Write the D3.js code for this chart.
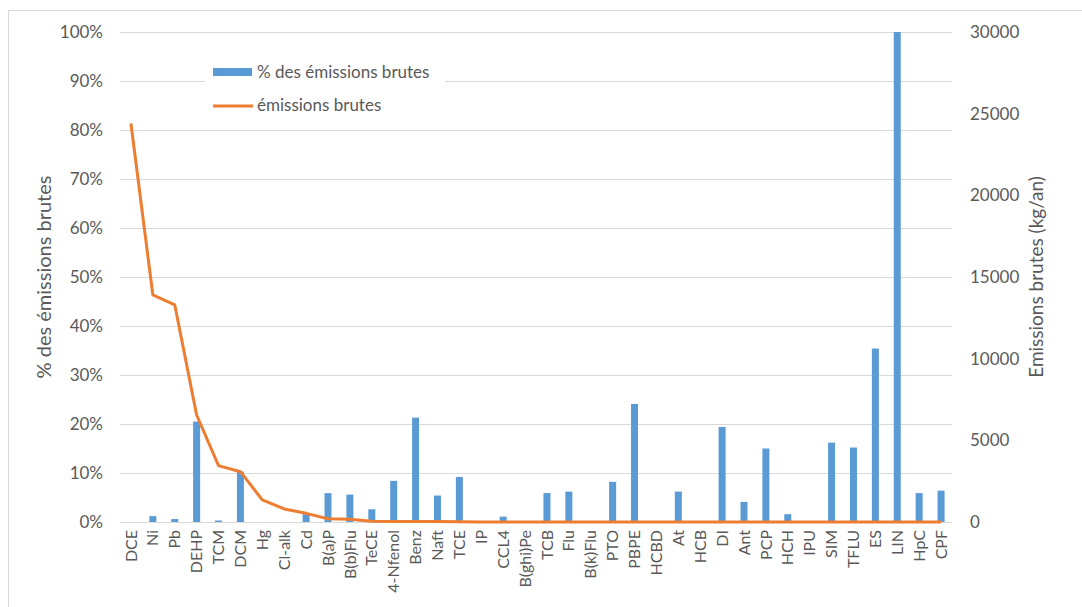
<!DOCTYPE html>
<html><head><meta charset="utf-8">
<script src="https://cdn.jsdelivr.net/npm/d3@7"></script>
<style>body{margin:0;background:#fff;} svg{display:block;}</style>
</head><body>
<svg id="c" width="1082" height="607"></svg>
<script>
const categories = ["DCE","Ni","Pb","DEHP","TCM","DCM","Hg","Cl-alk","Cd","B(a)P","B(b)Flu","TeCE","4-Nfenol","Benz","Naft","TCE","IP","CCL4","B(ghi)Pe","TCB","Flu","B(k)Flu","PTO","PBPE","HCBD","At","HCB","DI","Ant","PCP","HCH","IPU","SIM","TFLU","ES","LIN","HpC","CPF"];
const pctValues = [0,1.2,0.6,20.5,0.3,10.3,0,0,1.6,5.9,5.6,2.6,8.4,21.3,5.4,9.2,0,1.1,0,5.9,6.2,0,8.2,24.1,0,6.2,0,19.4,4.1,15.0,1.6,0,16.2,15.2,35.4,100,5.9,6.4];
const emissions = [24400,13900,13300,6550,3450,3080,1350,800,530,200,165,40,30,30,25,20,5,5,5,5,5,5,5,5,5,5,5,5,5,5,5,5,5,5,5,5,5,5];
const leftTicks = [0,10,20,30,40,50,60,70,80,90,100];
const rightTicks = [0,5000,10000,15000,20000,25000,30000];
const seriesNames = ["% des émissions brutes","émissions brutes"];

const svg = d3.select("#c");
const m = {left:120, right:952, top:32, bottom:522};
const font = "Lato, 'Open Sans', sans-serif";
const txt = "#595959";

svg.append("rect").attr("x",8.5).attr("y",10.5).attr("width",1100).attr("height",620)
  .attr("fill","#fff").attr("stroke","#d9d9d9");

const x = d3.scaleBand().domain(categories).range([m.left, m.right]).paddingInner(0.68).paddingOuter(0.34);
const yL = d3.scaleLinear().domain([0,100]).range([m.bottom, m.top]);
const yR = d3.scaleLinear().domain([0,30000]).range([m.bottom, m.top]);

// gridlines
svg.append("g").selectAll("line").data(leftTicks).join("line")
  .attr("x1",m.left).attr("x2",m.right)
  .attr("y1",d=>Math.round(yL(d))+0.5).attr("y2",d=>Math.round(yL(d))+0.5)
  .attr("stroke","#d9d9d9").attr("stroke-width",1);

// left axis
const gl = svg.append("g").attr("transform",`translate(${m.left},0)`)
  .call(d3.axisLeft(yL).tickValues(leftTicks).tickFormat(d=>d+"%").tickSize(0).tickPadding(17));
gl.select(".domain").remove();
gl.selectAll("text").attr("font-family",font).attr("font-size",17).attr("fill",txt);

// right axis
const gr = svg.append("g").attr("transform",`translate(${m.right},0)`)
  .call(d3.axisRight(yR).tickValues(rightTicks).tickFormat(d3.format("d")).tickSize(0).tickPadding(18));
gr.select(".domain").remove();
gr.selectAll("text").attr("font-family",font).attr("font-size",17).attr("fill",txt);

// bars
svg.append("g").selectAll("rect").data(categories).join("rect")
  .attr("x",(d)=>x(d)).attr("width",x.bandwidth())
  .attr("y",(d,i)=>yL(pctValues[i])).attr("height",(d,i)=>yL(0)-yL(pctValues[i]))
  .attr("fill","#5b9bd5");

// line
const line = d3.line().x((d,i)=>x(categories[i])+x.bandwidth()/2).y(d=>yR(d));
svg.append("path").datum(emissions).attr("d",line).attr("fill","none")
  .attr("stroke","#ed7d31").attr("stroke-width",3).attr("stroke-linejoin","round");

// x axis
const gx = svg.append("g").attr("transform",`translate(0,${m.bottom})`)
  .call(d3.axisBottom(x).tickSize(0).tickPadding(0));
gx.select(".domain").remove();
gx.selectAll("text").attr("font-family",font).attr("font-size",16).attr("fill",txt)
  .attr("transform","rotate(-90)").attr("text-anchor","end").attr("dx","-8").attr("dy","0.35em").attr("y",0).attr("x",0);

// axis titles
svg.append("text").attr("transform",`translate(51,${(m.top+m.bottom)/2}) rotate(-90)`)
  .attr("text-anchor","middle").attr("font-family",font).attr("font-size",20).attr("fill",txt)
  .text("% des émissions brutes");
svg.append("text").attr("transform",`translate(1043,${(m.top+m.bottom)/2}) rotate(-90)`)
  .attr("text-anchor","middle").attr("font-family",font).attr("font-size",19).attr("fill",txt)
  .text("Emissions brutes (kg/an)");

// legend
const lg = svg.append("g");
lg.append("rect").attr("x",205).attr("y",58).attr("width",240).attr("height",62).attr("fill","#fff");
lg.append("rect").attr("x",213).attr("y",68).attr("width",39).attr("height",8).attr("fill","#5b9bd5");
lg.append("line").attr("x1",213).attr("x2",253).attr("y1",106).attr("y2",106).attr("stroke","#ed7d31").attr("stroke-width",3);
lg.append("text").attr("x",257).attr("y",72).attr("dy","0.35em").attr("font-family",font).attr("font-size",17).attr("fill",txt).text(seriesNames[0]);
lg.append("text").attr("x",257).attr("y",105).attr("dy","0.35em").attr("font-family",font).attr("font-size",17).attr("fill",txt).text(seriesNames[1]);
</script>
</body></html>
